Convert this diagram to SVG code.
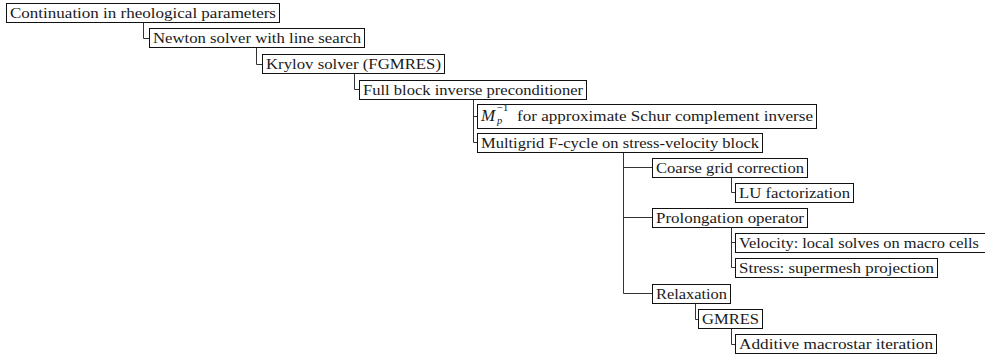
<svg xmlns="http://www.w3.org/2000/svg" width="985" height="360" viewBox="0 0 985 360">
<style>
.box{fill:#fff;stroke:#111;stroke-width:1}
.t{font-family:"Liberation Serif","DejaVu Serif","Liberation Sans",sans-serif;font-size:15.5px;fill:#1a1a1a}
.it{font-style:italic}
.sm{font-size:10.5px}
.c{fill:none;stroke:#333;stroke-width:1}
</style>
<rect width="985" height="360" fill="#fff"/>
<g id="connectors">
<path class="c" d="M143.5 22.5V38.5H149.5"/>
<path class="c" d="M256.5 47.5V64.5H262.5"/>
<path class="c" d="M354.5 73.5V89.5H359.5"/>
<path class="c" d="M473.5 99.5V142.5H477.5M473.5 116.5H477.5"/>
<path class="c" d="M623.5 151.5V293.5H652.5M623.5 167.5H652.5M623.5 217.5H652.5"/>
<path class="c" d="M731.5 176.5V192.5H735.5"/>
<path class="c" d="M731.5 227.5V267.5H735.5M731.5 242.5H735.5"/>
<path class="c" d="M695.5 303.5V319.5H698.5"/>
<path class="c" d="M731.5 328.5V344.5H735.5"/>
</g>
<g id="n1"><rect class="box" x="6.5" y="3.5" width="273" height="19"/><text class="t" x="10" y="18" textLength="266" lengthAdjust="spacingAndGlyphs">Continuation in rheological parameters</text></g>
<g id="n2"><rect class="box" x="149.5" y="28.5" width="215" height="19"/><text class="t" x="153" y="43" textLength="208" lengthAdjust="spacingAndGlyphs">Newton solver with line search</text></g>
<g id="n3"><rect class="box" x="262.5" y="54.5" width="182" height="19"/><text class="t" x="266" y="69" textLength="175" lengthAdjust="spacingAndGlyphs">Krylov solver (FGMRES)</text></g>
<g id="n4"><rect class="box" x="359.5" y="80.5" width="227" height="19"/><text class="t" x="363" y="95" textLength="220" lengthAdjust="spacingAndGlyphs">Full block inverse preconditioner</text></g>
<g id="n5"><rect class="box" x="477.5" y="104.5" width="339" height="24"/><text class="t" y="121"><tspan class="it" x="481" font-size="17px">M</tspan><tspan class="it sm" x="497" dy="3">p</tspan><tspan class="sm" x="497" dy="-13">−1</tspan><tspan x="517" dy="10" textLength="296" lengthAdjust="spacingAndGlyphs">for approximate Schur complement inverse</tspan></text></g>
<g id="n6"><rect class="box" x="477.5" y="133.5" width="285" height="19"/><text class="t" x="481" y="148" textLength="278" lengthAdjust="spacingAndGlyphs">Multigrid F-cycle on stress-velocity block</text></g>
<g id="n7"><rect class="box" x="652.5" y="158.5" width="155" height="19"/><text class="t" x="656" y="173" textLength="148" lengthAdjust="spacingAndGlyphs">Coarse grid correction</text></g>
<g id="n8"><rect class="box" x="735.5" y="183.5" width="118" height="19"/><text class="t" x="739" y="198" textLength="111" lengthAdjust="spacingAndGlyphs">LU factorization</text></g>
<g id="n9"><rect class="box" x="652.5" y="208.5" width="155" height="19"/><text class="t" x="656" y="223" textLength="148" lengthAdjust="spacingAndGlyphs">Prolongation operator</text></g>
<g id="n10"><rect class="box" x="735.5" y="233.5" width="262" height="19"/><text class="t" x="739" y="248" textLength="240" lengthAdjust="spacingAndGlyphs">Velocity: local solves on macro cells</text></g>
<g id="n11"><rect class="box" x="735.5" y="258.5" width="202" height="19"/><text class="t" x="739" y="273" textLength="195" lengthAdjust="spacingAndGlyphs">Stress: supermesh projection</text></g>
<g id="n12"><rect class="box" x="652.5" y="284.5" width="78" height="19"/><text class="t" x="656" y="299" textLength="71" lengthAdjust="spacingAndGlyphs">Relaxation</text></g>
<g id="n13"><rect class="box" x="698.5" y="309.5" width="64" height="19"/><text class="t" x="702" y="324" textLength="57" lengthAdjust="spacingAndGlyphs">GMRES</text></g>
<g id="n14"><rect class="box" x="735.5" y="334.5" width="201" height="19"/><text class="t" x="739" y="349" textLength="194" lengthAdjust="spacingAndGlyphs">Additive macrostar iteration</text></g>
</svg>
